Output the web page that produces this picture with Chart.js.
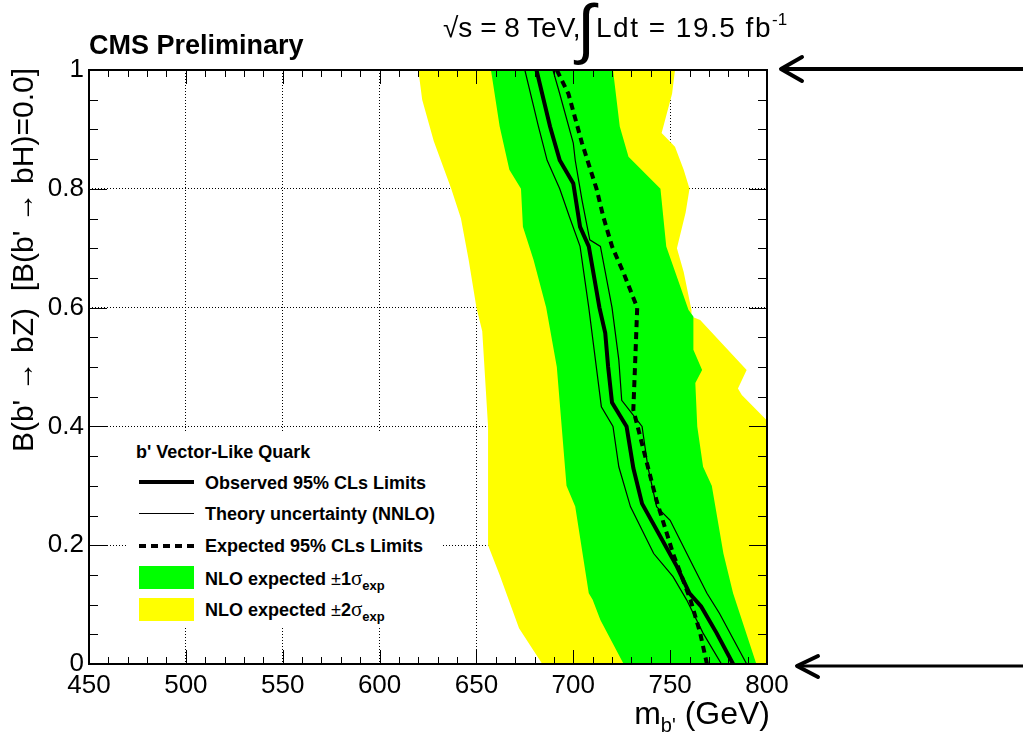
<!DOCTYPE html>
<html><head><meta charset="utf-8">
<script src="https://cdn.jsdelivr.net/npm/chart.js@4.4.1/dist/chart.umd.min.js"></script>
<style>
html,body{margin:0;padding:0;background:#fff;}
#wrap{position:relative;width:1023px;height:735px;overflow:hidden;font-family:"Liberation Sans",Arial,sans-serif;color:#000;}
#c{position:absolute;left:0;top:0;}
.abs{position:absolute;white-space:nowrap;}
#leg{position:absolute;left:128px;top:433px;width:313px;height:193px;background:#fff;}
#leg .t{position:absolute;left:77px;font-weight:bold;font-size:18px;line-height:22px;}
#leg .sw{position:absolute;left:11px;width:55px;}
.sig{font-family:"Liberation Serif",serif;font-weight:normal;font-size:21px;}
.sub{font-size:13px;position:relative;top:5px;}
</style></head><body>
<div id="wrap">
<canvas id="c" width="1023" height="735"></canvas>

<div class="abs" style="left:89px;top:32px;font-weight:bold;font-size:27px;line-height:27px;">CMS Preliminary</div>
<div class="abs" style="left:443px;top:14px;font-size:28px;line-height:28px;">√s = 8 TeV,</div>
<div class="abs" style="left:577px;top:-5px;font-size:66px;line-height:66px;">∫</div>
<div class="abs" style="left:596px;top:14px;font-size:28px;line-height:28px;letter-spacing:1.5px;">Ldt = 19.5 fb<span style="font-size:17px;position:relative;top:-12px;letter-spacing:0;">-1</span></div>

<div class="abs" style="right:253px;top:697px;font-size:32px;line-height:32px;text-align:right;">m<span style="font-size:20px;position:relative;top:8px;">b'</span> (GeV)</div>
<div class="abs" style="left:6px;top:462px;width:394px;font-size:30px;line-height:34px;text-align:right;transform:rotate(-90deg);transform-origin:0 0;">B(b' → bZ)&nbsp; [B(b' → bH)=0.0]</div>

<div id="leg">
  <div class="t" style="left:8px;top:8px;">b' Vector-Like Quark</div>
  <div class="sw" style="top:47px;height:4px;background:#000;"></div>
  <div class="t" style="top:39px;">Observed 95% CLs Limits</div>
  <div class="sw" style="top:80px;height:1px;background:#000;"></div>
  <div class="t" style="top:70px;">Theory uncertainty (NNLO)</div>
  <div class="sw" style="top:111px;height:4px;background:repeating-linear-gradient(90deg,#000 0 7px,transparent 7px 12px);"></div>
  <div class="t" style="top:102px;">Expected 95% CLs Limits</div>
  <div class="sw" style="top:133px;height:23px;background:#00ff00;"></div>
  <div class="t" style="top:134px;">NLO expected <span style="font-weight:normal">±</span>1<span class="sig">σ</span><span class="sub">exp</span></div>
  <div class="sw" style="top:165px;height:23px;background:#ffff00;"></div>
  <div class="t" style="top:165px;">NLO expected <span style="font-weight:normal">±</span>2<span class="sig">σ</span><span class="sub">exp</span></div>
</div>

<svg class="abs" style="left:0;top:0;" width="1023" height="735">
  <g stroke="#000" fill="none" stroke-linecap="round" stroke-linejoin="round">
    <line x1="1023" y1="69" x2="783" y2="69" stroke-width="4"/>
    <polyline points="802,57 781,69 802,81" stroke-width="4"/>
    <line x1="1023" y1="666" x2="799" y2="666" stroke-width="3"/>
    <polyline points="818,656 797,666 818,677" stroke-width="4"/>
  </g>
</svg>
</div>
<script>
// axis ticks
const xTicks = [450, 500, 550, 600, 650, 700, 750, 800];
const yTicks = [0, 0.2, 0.4, 0.6, 0.8, 1];

// +-2 sigma band edges (B(b'->bZ), m_b' GeV)
const yellowLowB = [1.0, 0.95, 0.88, 0.80, 0.75, 0.68, 0.60, 0.56, 0.40, 0.22, 0.20, 0.15, 0.06, 0.0];
const yellowLowM = [620, 622, 628, 637, 642, 646, 650, 653, 656, 656, 656, 662, 672, 684];
const yellowHighB = [1.0, 0.96, 0.905, 0.894, 0.871, 0.832, 0.80, 0.76, 0.70, 0.66, 0.596, 0.585, 0.579, 0.495, 0.464, 0.453, 0.41, 0.0];
const yellowHighM = [752.5, 751, 746.5, 745.6, 752.5, 757, 760, 758, 753.5, 757, 761, 761, 765.5, 789.5, 785, 787, 800, 800];

// +-1 sigma band edges
const greenLowB = [1.0, 0.905, 0.832, 0.80, 0.736, 0.68, 0.60, 0.50, 0.30, 0.265, 0.119, 0.108, 0.074, 0.0];
const greenLowM = [657.5, 662, 667, 673, 674, 679.5, 686, 691.5, 696.5, 701, 708, 710, 714, 726];
const greenHighB = [1.0, 0.905, 0.854, 0.80, 0.703, 0.596, 0.585, 0.529, 0.495, 0.473, 0.40, 0.332, 0.30, 0.186, 0.119, 0.0];
const greenHighM = [720.5, 724, 728.5, 745, 748, 759.5, 762, 762, 766.5, 763, 764, 767, 771.5, 777.5, 782.5, 794.5];

// observed limit
const obsB = [1.0, 0.905, 0.848, 0.809, 0.736, 0.703, 0.60, 0.557, 0.50, 0.44, 0.40, 0.33, 0.27, 0.22, 0.164, 0.119, 0.097, 0.052, 0.0];
const obsM = [681, 688, 693, 700, 703.5, 708, 713.5, 716.5, 718, 720, 727.5, 731, 735.5, 744, 753.5, 760, 766, 774, 782.5];

// theory uncertainty (NNLO) lower / upper
const thLowB = [1.0, 0.905, 0.848, 0.80, 0.753, 0.703, 0.60, 0.433, 0.40, 0.332, 0.265, 0.186, 0.147, 0.108, 0.052, 0.0];
const thLowM = [675, 682, 686.5, 693, 698, 703.5, 708, 714.5, 720.5, 723.5, 729.5, 741.5, 751.5, 758.5, 767, 776.5];
const thHighB = [1.0, 0.96, 0.877, 0.848, 0.781, 0.714, 0.703, 0.60, 0.512, 0.444, 0.40, 0.332, 0.265, 0.242, 0.164, 0.119, 0.085, 0.0];
const thHighM = [689.5, 693, 700, 701, 704.5, 708.5, 714, 720, 723.5, 725, 735.5, 738.5, 743, 750, 762, 769, 775.5, 789.5];

// expected limit
const expB = [1.0, 0.96, 0.877, 0.80, 0.753, 0.703, 0.658, 0.60, 0.513, 0.428, 0.332, 0.275, 0.186, 0.108, 0.052, 0.0];
const expM = [691.5, 697.5, 704.5, 712, 715.5, 720, 726, 733, 732, 731, 738.5, 743, 751.5, 760.5, 765.5, 769];

const toPts = (bs, ms) => bs.map((b, i) => ({x: ms[i], y: b}));
const band = (lb, lm, hb, hm) => toPts(lb, lm).concat(toPts(hb, hm).reverse());

const lineDs = (data, w, dash) => ({data, showLine: true, pointRadius: 0, borderColor: '#000', borderWidth: w,
  borderDash: dash || [], fill: false, tension: 0, clip: 0});
const bandDs = (data, col) => ({data, showLine: true, pointRadius: 0, borderWidth: 0, borderColor: col,
  backgroundColor: col, fill: 'shape', tension: 0, clip: 0});

const frame = {
  id: 'frame',
  afterDraw(chart) {
    const ctx = chart.ctx, a = chart.chartArea, x = chart.scales.x, y = chart.scales.y;
    ctx.save();
    ctx.setLineDash([]);
    ctx.strokeStyle = '#000000';
    ctx.lineWidth = 1;
    for (let v = 450; v <= 800; v += 10) {
      const px = Math.round(x.getPixelForValue(v)) + 0.5;
      const L = (v % 50 === 0) ? 14 : 7;
      ctx.beginPath();
      ctx.moveTo(px, a.bottom); ctx.lineTo(px, a.bottom - L);
      ctx.moveTo(px, a.top); ctx.lineTo(px, a.top + L);
      ctx.stroke();
    }
    for (let k = 0; k <= 20; k++) {
      const py = Math.round(y.getPixelForValue(k * 0.05)) + 0.5;
      const L = (k % 4 === 0) ? 18 : 9;
      ctx.beginPath();
      ctx.moveTo(a.left, py); ctx.lineTo(a.left + L, py);
      ctx.moveTo(a.right, py); ctx.lineTo(a.right - L, py);
      ctx.stroke();
    }
    ctx.lineWidth = 2;
    ctx.strokeRect(a.left, a.top, a.right - a.left, a.bottom - a.top);
    ctx.restore();
  }
};

const tickFont = {family: 'Liberation Sans', size: 26};
new Chart(document.getElementById('c'), {
  type: 'scatter',
  data: {datasets: [
    lineDs(toPts(obsB, obsM), 4),
    lineDs(toPts(thLowB, thLowM), 1.2),
    lineDs(toPts(thHighB, thHighM), 1.2),
    lineDs(toPts(expB, expM), 4, [7, 5]),
    bandDs(band(greenLowB, greenLowM, greenHighB, greenHighM), '#00ff00'),
    bandDs(band(yellowLowB, yellowLowM, yellowHighB, yellowHighM), '#ffff00')
  ]},
  options: {
    responsive: false, animation: false, devicePixelRatio: 1,
    layout: {padding: {left: 0, top: 70, right: 256, bottom: 0}},
    plugins: {legend: {display: false}, tooltip: {enabled: false}},
    scales: {
      x: {type: 'linear', min: 450, max: 800,
        afterBuildTicks: s => { s.ticks = xTicks.map(v => ({value: v})); },
        afterFit: s => { s.height = 71; },
        grid: {color: '#000', lineWidth: 1, drawTicks: false},
        border: {display: false, dash: [1, 2]},
        ticks: {font: tickFont, color: '#000', padding: 6, maxRotation: 0, autoSkip: false,
          callback: v => String(v)}},
      y: {type: 'linear', min: 0, max: 1,
        afterBuildTicks: s => { s.ticks = yTicks.map(v => ({value: v})); },
        afterFit: s => { s.width = 89; },
        grid: {color: '#000', lineWidth: 1, drawTicks: false},
        border: {display: false, dash: [1, 2]},
        ticks: {font: tickFont, color: '#000', padding: 5, autoSkip: false,
          callback: v => String(+Number(v).toFixed(1))}}
    }
  },
  plugins: [frame]
});
</script>
</body></html>
